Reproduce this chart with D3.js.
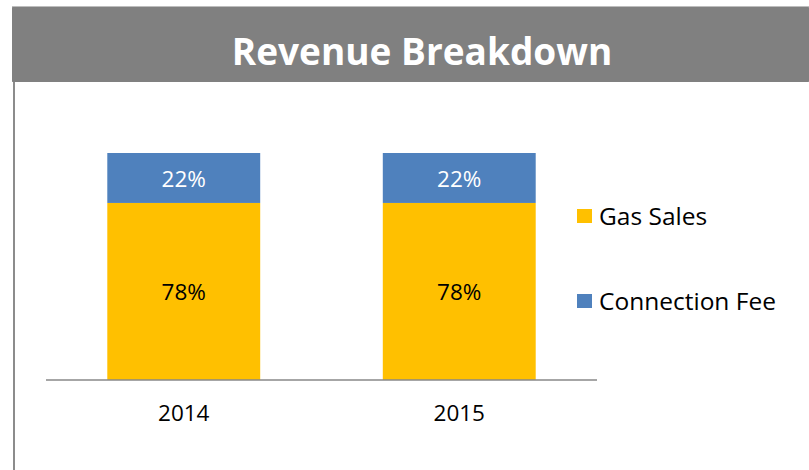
<!DOCTYPE html>
<html><head><meta charset="utf-8">
<script src="https://cdn.jsdelivr.net/npm/d3@7"></script>
<style>body{margin:0;background:#fff}svg{display:block;font-family:"Open Sans","Noto Sans",sans-serif}</style>
</head><body>
<script>
const categories = ["2014", "2015"];
const seriesNames = ["Gas Sales", "Connection Fee"];
const gasSales = [78, 78];
const connectionFee = [22, 22];
const colors = ["#FFC000", "#4F81BD"];

const W = 809, H = 470;
const svg = d3.select("body").append("svg").attr("width", W).attr("height", H);

// header
svg.append("rect").attr("x", 12).attr("y", 6).attr("width", W - 12).attr("height", 76).attr("fill", "#bdbdbd");
svg.append("rect").attr("x", 12).attr("y", 7).attr("width", W - 12).attr("height", 75).attr("fill", "#808080").attr("rx", 1);
svg.append("text").attr("x", 422).attr("y", 65).attr("text-anchor", "middle")
  .attr("fill", "#fff").attr("font-weight", "bold").attr("font-size", 37).text("Revenue Breakdown");
// left border
svg.append("rect").attr("x", 13).attr("y", 82).attr("width", 2).attr("height", H - 82).attr("fill", "#8c8c8c");

const x = d3.scaleBand().domain(categories).range([46, 597]).paddingInner(0.445).paddingOuter(0.2225);
const y = d3.scaleLinear().domain([0, 100]).range([380, 153]);

const data = categories.map((c, i) => ({cat: c, "Gas Sales": gasSales[i], "Connection Fee": connectionFee[i]}));
const stacked = d3.stack().keys(seriesNames)(data);

const g = svg.append("g");
stacked.forEach((s, si) => {
  g.selectAll(null).data(s).enter().append("rect")
    .attr("x", d => x(d.data.cat)).attr("width", x.bandwidth())
    .attr("y", d => y(d[1])).attr("height", d => y(d[0]) - y(d[1]))
    .attr("fill", colors[si]);
  g.selectAll(null).data(s).enter().append("text")
    .attr("x", d => x(d.data.cat) + x.bandwidth() / 2)
    .attr("y", d => (y(d[0]) + y(d[1])) / 2 + 1)
    .attr("dy", "0.35em").attr("text-anchor", "middle").attr("font-size", 22.5)
    .attr("fill", si === 0 ? "#000" : "#fff")
    .text(d => (d[1] - d[0]) + "%");
});

// axis
const axis = svg.append("g").attr("transform", "translate(0,380)")
  .call(d3.axisBottom(x).tickSize(0).tickPadding(25));
axis.select(".domain").attr("stroke", "#888").attr("stroke-width", 1.5).attr("d", "M46,0H597");
axis.selectAll("text").attr("font-size", 22.5).attr("fill", "#000").attr("font-family", "'Open Sans','Noto Sans',sans-serif");

// legend
const legY = [216, 301];
seriesNames.forEach((n, i) => {
  svg.append("rect").attr("x", 577).attr("y", legY[i] - 7).attr("width", 15).attr("height", 14).attr("fill", colors[i]);
  svg.append("text").attr("x", 599).attr("y", legY[i]).attr("dy", "0.35em").attr("font-size", 24.5).attr("fill", "#000").text(n);
});
</script>
</body></html>
